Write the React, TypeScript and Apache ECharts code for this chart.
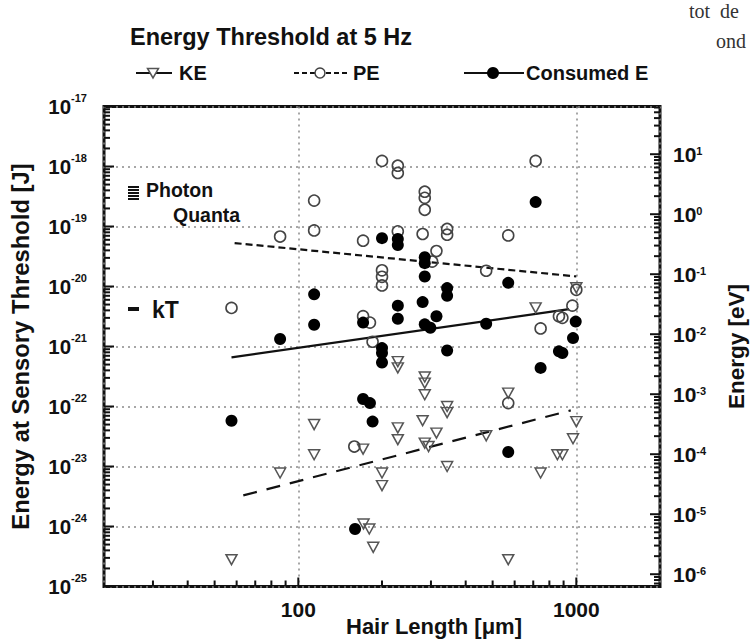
import React, { useEffect, useRef } from 'react';
import * as echarts from 'echarts';

const FONT = '"Liberation Sans", Arial, Helvetica, sans-serif';
const SERIF = '"Liberation Serif", "DejaVu Serif", serif';

// ---- data: hair length [µm] and energy [J] ----
const KE_LEN = [57.5, 86, 114, 114, 171, 200, 200, 228, 228, 228, 228, 285, 285, 285, 280, 314, 285, 294, 343, 343, 343, 171.6, 180, 186, 569, 1000, 474, 973, 855, 891, 744, 569, 714, 1000];
const KE_E = [2.8e-25, 7.8e-24, 5.0e-23, 1.57e-23, 1.95e-23, 7.8e-24, 4.8e-24, 5.6e-22, 4.4e-22, 4.4e-23, 2.8e-23, 3.1e-22, 2.45e-22, 1.57e-22, 5.8e-23, 3.6e-23, 2.45e-23, 2.15e-23, 1.0e-22, 7.9e-23, 1.0e-23, 1.1e-24, 9.1e-25, 4.5e-25, 1.67e-22, 5.6e-23, 3.25e-23, 2.9e-23, 1.57e-23, 1.57e-23, 7.8e-24, 2.8e-25, 4.4e-21, 9.5e-21];

const PE_LEN = [57.5, 86, 114, 114, 200, 228, 228, 285, 285, 285, 171, 228, 280, 343, 343, 314, 303, 200, 200, 200, 171, 181, 185, 714, 569, 474, 1000, 968, 866, 891, 744, 569, 159];
const PE_E = [4.4e-21, 6.8e-20, 2.7e-19, 8.6e-20, 1.24e-18, 1.03e-18, 7.8e-19, 3.8e-19, 3.0e-19, 1.9e-19, 5.8e-20, 8.3e-20, 7.5e-20, 9.1e-20, 7.3e-20, 3.9e-20, 2.6e-20, 1.86e-20, 1.45e-20, 1.04e-20, 3.2e-21, 2.5e-21, 1.2e-21, 1.24e-18, 7.1e-20, 1.83e-20, 8.8e-21, 4.8e-21, 3.2e-21, 3.0e-21, 2.0e-21, 1.14e-22, 2.15e-23];

const CE_LEN = [57.5, 86, 114, 114, 200, 228, 228, 285, 285, 285, 228, 228, 280, 343, 343, 314, 285, 298.5, 171, 200, 200, 200, 343, 714, 569, 474, 995, 973, 866, 891, 744, 171, 181, 185, 569, 160];
const CE_E = [5.8e-23, 1.33e-21, 7.4e-21, 2.3e-21, 6.4e-20, 6.2e-20, 4.9e-20, 3.07e-20, 2.45e-20, 1.47e-20, 4.8e-21, 2.9e-21, 5.5e-21, 9.4e-21, 7.0e-21, 3.2e-21, 2.34e-21, 2.05e-21, 2.5e-21, 9.4e-22, 7.8e-22, 5.4e-22, 8.6e-22, 2.55e-19, 1.15e-20, 2.4e-21, 2.6e-21, 1.38e-21, 8.3e-22, 7.8e-22, 4.4e-22, 1.33e-22, 1.14e-22, 5.6e-23, 1.74e-23, 9.1e-25];

// fitted trend lines (end points)
const FIT_KE_LEN = [63.4, 955];
const FIT_KE_E = [3.3e-24, 8.6e-23];
const FIT_PE_LEN = [59, 1000];
const FIT_PE_E = [5.3e-20, 1.47e-20];
const FIT_CE_LEN = [57.5, 942];
const FIT_CE_E = [6.6e-22, 4.2e-21];

// axes
const X_MIN = 20;
const X_MAX = 2000;
const X_TICK_LABELS = [100, 1000];
const Y_MIN_EXP = -25; // 1e-25 J
const Y_MAX_EXP = -17; // 1e-17 J
const J_PER_EV = 1.602e-19;

// the log scale loses precision on tiny numbers, so the axes run in scaled units
const Y_UNIT = 1e-25; // J per axis unit
const EV_UNIT = 1e-7; // eV per axis unit
const EV_EXP_OFFSET = -7;
const Y_MIN = 1;
const Y_MAX = Math.pow(10, Y_MAX_EXP - Y_MIN_EXP);
const EV_MIN = Y_UNIT / J_PER_EV / EV_UNIT;
const EV_MAX = (Y_UNIT * Y_MAX) / J_PER_EV / EV_UNIT;

const zipJ = (a: number[], b: number[]) => a.map((v, i) => [v, b[i] / Y_UNIT]);

function isDecade(v: number) {
  const l = Math.log10(v);
  return Math.abs(l - Math.round(l)) < 1e-6;
}

const gridLine = { show: true, lineStyle: { color: '#8a8a8a', width: 1.5, type: [2, 4] as any } };

const txt = (text: string, x: number, y: number, size: number, extra: any = {}) => ({
  type: 'text',
  x,
  y,
  silent: true,
  style: {
    text,
    fill: '#111',
    fontSize: size,
    fontWeight: 'bold',
    fontFamily: FONT,
    align: 'left',
    verticalAlign: 'middle',
    ...extra,
  },
});

function annotations(): any[] {
  const LY = 73;
  const stripes = [186, 189, 192, 195, 198].map((y) => ({
    type: 'rect',
    shape: { x: 128, y, width: 11, height: 2 },
    style: { fill: '#111' },
    silent: true,
  }));
  return [
    { type: 'line', shape: { x1: 136, y1: LY, x2: 172, y2: LY }, style: { stroke: '#111', lineWidth: 2 }, silent: true },
    { type: 'polygon', shape: { points: [[147.5, LY - 4.5], [158.5, LY - 4.5], [153, LY + 5]] }, style: { fill: '#fff', stroke: '#555', lineWidth: 1.5 }, silent: true },
    txt('KE', 179, LY, 20),
    { type: 'line', shape: { x1: 294, y1: LY, x2: 347, y2: LY }, style: { stroke: '#111', lineWidth: 2, lineDash: [5, 3] }, silent: true },
    { type: 'circle', shape: { cx: 320, cy: LY, r: 5 }, style: { fill: '#fff', stroke: '#444', lineWidth: 1.5 }, silent: true },
    txt('PE', 353, LY, 20),
    { type: 'line', shape: { x1: 464, y1: LY, x2: 524, y2: LY }, style: { stroke: '#111', lineWidth: 2.2 }, silent: true },
    { type: 'circle', shape: { cx: 493, cy: LY, r: 6 }, style: { fill: '#000' }, silent: true },
    txt('Consumed E', 526, LY, 20),
    ...stripes,
    txt('Photon', 146, 190, 19.5),
    txt('Quanta', 173, 215, 19.5),
    { type: 'rect', shape: { x: 128, y: 307, width: 11, height: 4 }, style: { fill: '#111' }, silent: true },
    txt('kT', 152, 310, 23),
    txt('tot  de', 689, 11, 20, { fontWeight: 'normal', fontFamily: SERIF, fill: '#333' }),
    txt('ond', 716, 41, 20, { fontWeight: 'normal', fontFamily: SERIF, fill: '#333' }),
  ];
}

function buildOption(): any {
  const lab = (size: number, lh: number, slh: number) => ({
    b: { fontSize: size, fontWeight: 'bold', fontFamily: FONT, color: '#111', lineHeight: lh },
    s: { fontSize: 11, fontWeight: 'bold', fontFamily: FONT, color: '#111', verticalAlign: 'top', lineHeight: slh },
  });
  const expFmt = (offset: number) => (v: number) =>
    isDecade(v) ? `{b|10}{s|${Math.round(Math.log10(v)) + offset}}` : '';

  return {
    animation: false,
    backgroundColor: '#fff',
    title: {
      text: 'Energy Threshold at 5 Hz',
      left: 125,
      top: 20,
      textStyle: { fontSize: 23.5, fontWeight: 'bold', fontFamily: FONT, color: '#111' },
    },
    grid: {
      left: 104,
      top: 106.5,
      width: 556,
      height: 480,
      containLabel: false,
      outerBoundsMode: 'none',
      show: true,
      borderWidth: 3,
      borderColor: '#111',
      backgroundColor: 'transparent',
    },
    xAxis: {
      type: 'log',
      min: X_MIN,
      max: X_MAX,
      name: 'Hair Length [μm]',
      nameLocation: 'middle',
      nameGap: 29,
      nameMoveOverlap: false,
      nameTextStyle: { fontSize: 22, fontWeight: 'bold', fontFamily: FONT, color: '#111', padding: [0, 0, 0, 104] },
      axisLine: { show: false },
      axisTick: { show: false },
      splitLine: gridLine,
      axisLabel: {
        margin: 12,
        fontSize: 21,
        fontWeight: 'bold',
        fontFamily: FONT,
        color: '#111',
        formatter: (v: number) => (X_TICK_LABELS.some((t) => Math.abs(t - v) / t < 1e-6) ? String(Math.round(v)) : ''),
      },
    },
    yAxis: [
      {
        type: 'log',
        min: Y_MIN,
        max: Y_MAX,
        name: 'Energy at Sensory Threshold [J]',
        nameLocation: 'middle',
        nameGap: 72,
        nameMoveOverlap: false,
        nameTextStyle: { fontSize: 23.8, fontWeight: 'bold', fontFamily: FONT, color: '#111' },
        axisLine: { show: false },
        axisTick: { show: false },
        splitLine: gridLine,
        axisLabel: { margin: 17, formatter: expFmt(Y_MIN_EXP), rich: lab(20.5, 28, 12) },
      },
      {
        type: 'log',
        min: EV_MIN,
        max: EV_MAX,
        position: 'right',
        name: 'Energy [eV]',
        nameLocation: 'middle',
        nameGap: 65,
        nameMoveOverlap: false,
        nameTextStyle: { fontSize: 22.5, fontWeight: 'bold', fontFamily: FONT, color: '#111' },
        axisLine: { show: false },
        axisTick: { show: false },
        splitLine: { show: false },
        axisLabel: { margin: 13, formatter: expFmt(EV_EXP_OFFSET), rich: lab(21, 18, 11) },
      },
    ],
    series: [
      {
        type: 'line',
        name: 'KE fit',
        data: zipJ(FIT_KE_LEN, FIT_KE_E),
        showSymbol: false,
        symbol: 'none',
        lineStyle: { color: '#111', width: 2.2, type: [14, 10] },
        z: 3,
      },
      {
        type: 'line',
        name: 'PE fit',
        data: zipJ(FIT_PE_LEN, FIT_PE_E),
        showSymbol: false,
        symbol: 'none',
        lineStyle: { color: '#111', width: 2.2, type: [7, 4] },
        z: 3,
      },
      {
        type: 'line',
        name: 'Consumed fit',
        data: zipJ(FIT_CE_LEN, FIT_CE_E),
        showSymbol: false,
        symbol: 'none',
        lineStyle: { color: '#111', width: 2.2, type: 'solid' },
        z: 3,
      },
      {
        type: 'scatter',
        name: 'KE',
        data: zipJ(KE_LEN, KE_E),
        symbol: 'triangle',
        symbolRotate: 180,
        symbolSize: [11, 10],
        itemStyle: { color: 'rgba(0,0,0,0)', borderColor: '#555', borderWidth: 1.5, opacity: 1 },
        z: 4,
      },
      {
        type: 'scatter',
        name: 'PE',
        data: zipJ(PE_LEN, PE_E),
        symbol: 'circle',
        symbolSize: 11,
        itemStyle: { color: 'rgba(0,0,0,0)', borderColor: '#444', borderWidth: 1.6, opacity: 1 },
        z: 4,
      },
      {
        type: 'scatter',
        name: 'Consumed E',
        data: zipJ(CE_LEN, CE_E),
        symbol: 'circle',
        symbolSize: 12,
        itemStyle: { color: '#000', opacity: 1 },
        z: 4,
      },
    ],
    graphic: annotations(),
  };
}

// log-spaced inward tick marks, placed through the chart's own axis scales
function tickGraphics(chart: any): any[] {
  const out: any[] = [];
  const seg = (x1: number, y1: number, x2: number, y2: number) => {
    if ([x1, y1, x2, y2].some((n) => typeof n !== 'number' || !isFinite(n))) return;
    out.push({ type: 'line', silent: true, z: 10, shape: { x1, y1, x2, y2 }, style: { stroke: '#111', lineWidth: 2 } });
  };
  const px = (v: number) => chart.convertToPixel({ xAxisIndex: 0 }, v) as number;
  const pyL = (v: number) => chart.convertToPixel({ yAxisIndex: 0 }, v) as number;
  const pyR = (v: number) => chart.convertToPixel({ yAxisIndex: 1 }, v) as number;
  const xL = px(X_MIN);
  const xR = px(X_MAX);
  const yB = pyL(Y_MIN);
  for (let e = 0; e <= 8; e++) {
    for (let k = 1; k <= 9; k++) {
      const v = k * Math.pow(10, e);
      if (v > Y_MAX * 1.0001) break;
      const y = pyL(v);
      seg(xL, y, xL + (k === 1 ? 10 : 6), y);
    }
  }
  for (let e = 0; e <= 9; e++) {
    for (let k = 1; k <= 9; k++) {
      const v = k * Math.pow(10, e);
      if (v <= EV_MIN || v >= EV_MAX) continue;
      const y = pyR(v);
      seg(xR, y, xR - (k === 1 ? 10 : 6), y);
    }
  }
  for (let e = 1; e <= 3; e++) {
    for (let k = 1; k <= 9; k++) {
      const v = k * Math.pow(10, e);
      if (v <= X_MIN * 1.001 || v >= X_MAX * 0.999) continue;
      const x = px(v);
      seg(x, yB, x, yB - (k === 1 ? 9 : 6));
    }
  }
  return out;
}

export default function App() {
  const ref = useRef<HTMLDivElement>(null);
  useEffect(() => {
    if (!ref.current) return;
    const chart = echarts.init(ref.current, undefined, { renderer: 'svg' });
    chart.setOption(buildOption());
    try {
      chart.setOption({ graphic: [...annotations(), ...tickGraphics(chart)] });
    } catch (e) {
      // keep chart without extra ticks
    }
    return () => chart.dispose();
  }, []);
  return (
    <div
      ref={ref}
      style={{ position: 'absolute', left: 0, top: 0, width: 750, height: 643, background: '#fff' }}
    />
  );
}
